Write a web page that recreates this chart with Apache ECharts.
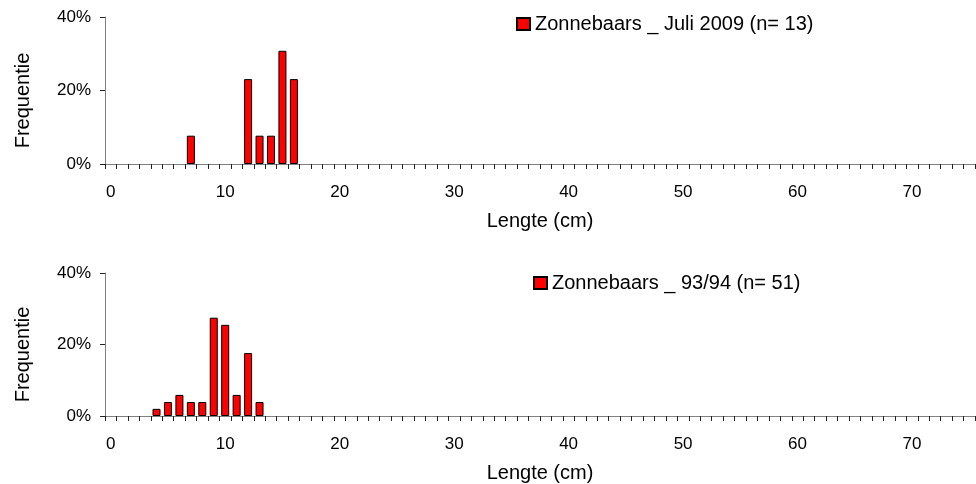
<!DOCTYPE html>
<html>
<head>
<meta charset="utf-8">
<script src="https://cdn.jsdelivr.net/npm/echarts@6/dist/echarts.min.js"></script>
<style>html,body{margin:0;padding:0;background:#fff;}#c{width:976px;height:484px;}</style>
</head>
<body>
<div id="c"></div>
<script>
// Length classes (cm) on the x axis
var lengthCategories = [];
for (var i = 0; i <= 75; i++) lengthCategories.push(String(i));

// Top panel: Zonnebaars _ Juli 2009 (n= 13)
var topName = 'Zonnebaars _ Juli 2009 (n= 13)';
var topLengths = [7, 12, 13, 14, 15, 16];
var topPercent = [7.7, 23.1, 7.7, 7.7, 30.8, 23.1];

// Bottom panel: Zonnebaars _ 93/94 (n= 51)
var bottomName = 'Zonnebaars _ 93/94 (n= 51)';
var bottomLengths = [4, 5, 6, 7, 8, 9, 10, 11, 12, 13];
var bottomPercent = [2.0, 3.9, 5.9, 3.9, 3.9, 27.5, 25.5, 5.9, 17.6, 3.9];

// Y axis ticks (%)
var yMin = 0, yMax = 40, yStep = 20;

function toSeries(lengths, values) {
  var arr = lengthCategories.map(function () { return null; });
  lengths.forEach(function (l, k) { arr[lengthCategories.indexOf(String(l))] = values[k]; });
  return arr;
}

var FONT = '"Liberation Sans", Arial, sans-serif';

function xAxisCfg(gridIndex) {
  return {
    type: 'category', gridIndex: gridIndex, data: lengthCategories, boundaryGap: true,
    name: 'Lengte (cm)', nameLocation: 'middle', nameGap: 47,
    nameTextStyle: { fontFamily: FONT, fontSize: 20, color: '#000' },
    axisLine: { show: true, lineStyle: { color: '#808080', width: 1 } },
    axisTick: { show: true, interval: 0, length: 5, lineStyle: { color: '#222', width: 1 } },
    axisLabel: { interval: 9, margin: 20, fontFamily: FONT, fontSize: 17, color: '#000' },
    splitLine: { show: false }
  };
}
function yAxisCfg(gridIndex) {
  return {
    type: 'value', gridIndex: gridIndex, min: yMin, max: yMax, interval: yStep,
    name: 'Frequentie', nameLocation: 'middle', nameGap: 72,
    nameTextStyle: { fontFamily: FONT, fontSize: 20, color: '#000', padding: [0, 20, 0, 0] },
    axisLine: { show: true, lineStyle: { color: '#808080', width: 1 } },
    axisTick: { show: true, length: 5, lineStyle: { color: '#222', width: 1 } },
    axisLabel: { margin: 14, fontFamily: FONT, fontSize: 17, color: '#000', formatter: '{value}%' },
    splitLine: { show: false }
  };
}
function barSeries(name, idx, data) {
  return {
    type: 'bar', name: name, xAxisIndex: idx, yAxisIndex: idx, data: data,
    barWidth: '70%',
    itemStyle: { color: '#FF0000', borderColor: '#000', borderWidth: 1 },
    emphasis: { disabled: true }
  };
}

var chart = echarts.init(document.getElementById('c'), null, { renderer: 'canvas' });
chart.setOption({
  animation: false,
  backgroundColor: '#fff',
  grid: [
    { left: 105, right: 1, top: 17, height: 147, containLabel: false },
    { left: 105, right: 1, top: 273, height: 146.5, containLabel: false }
  ],
  legend: [
    { data: [topName], left: 516, top: 14, padding: 0, icon: 'rect', itemWidth: 13, itemHeight: 12, itemGap: 4,
      textStyle: { fontFamily: FONT, fontSize: 20, color: '#000' }, selectedMode: false },
    { data: [bottomName], left: 533, top: 273, padding: 0, icon: 'rect', itemWidth: 13, itemHeight: 12, itemGap: 4,
      textStyle: { fontFamily: FONT, fontSize: 20, color: '#000' }, selectedMode: false }
  ],
  xAxis: [xAxisCfg(0), xAxisCfg(1)],
  yAxis: [yAxisCfg(0), yAxisCfg(1)],
  series: [
    barSeries(topName, 0, toSeries(topLengths, topPercent)),
    barSeries(bottomName, 1, toSeries(bottomLengths, bottomPercent))
  ]
});
</script>
</body>
</html>
